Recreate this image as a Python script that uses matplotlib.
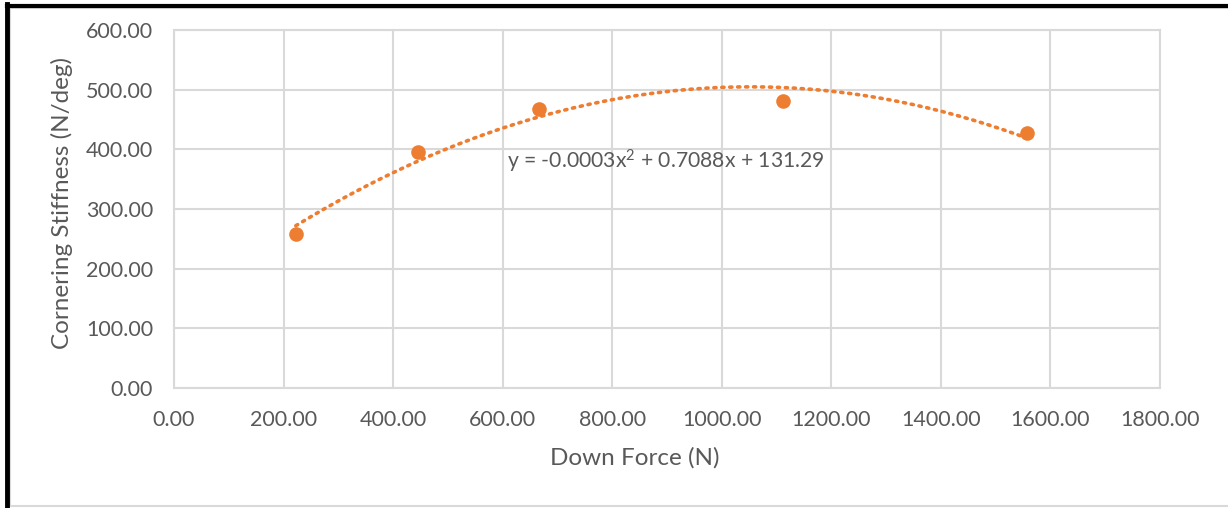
import numpy as np
import matplotlib
matplotlib.use("Agg")
import matplotlib.pyplot as plt
from matplotlib.lines import Line2D
from matplotlib.patches import Rectangle

plt.rcParams['font.family'] = ['Lato', 'DejaVu Sans']

# Measured data: vertical load vs cornering stiffness
down_force = [222.4, 444.8, 667.2, 1112.0, 1556.8]
stiffness = [258.0, 395.5, 467.5, 481.0, 427.0]
x_ticks = [0, 200, 400, 600, 800, 1000, 1200, 1400, 1600, 1800]
y_ticks = [0, 100, 200, 300, 400, 500, 600]
trend_label = "y = -0.0003x$^{2}$ + 0.7088x + 131.29"

orange = "#ED7D31"
grid_c = "#D9D9D9"
text_c = "#595959"

fig = plt.figure(figsize=(12.28, 5.08), dpi=100)
ax = fig.add_axes([174/1228, 1-388/508, (1160-174)/1228, (388-30)/508])

# second-order polynomial trendline over the data range
coef = np.polyfit(down_force, stiffness, 2)
xs = np.linspace(min(down_force), max(down_force), 200)
ax.plot(xs, np.polyval(coef, xs), linestyle=(0, (0.6, 1.6)), color=orange,
        linewidth=2.6, dash_capstyle='round', zorder=2)

ax.plot(down_force, stiffness, 'o', color=orange, markersize=10.5,
        markeredgewidth=0, zorder=3)

ax.set_xlim(0, 1800)
ax.set_ylim(0, 600)
ax.set_xticks(x_ticks)
ax.set_yticks(y_ticks)
ax.set_xticklabels([f"{v:.2f}" for v in x_ticks])
ax.set_yticklabels([f"{v:.2f}" for v in y_ticks])
ax.grid(True, color=grid_c, linewidth=1.5)
ax.set_axisbelow(True)
for s in ax.spines.values():
    s.set_color(grid_c)
    s.set_linewidth(1.5)
ax.tick_params(length=0, labelsize=15.5, colors=text_c, pad=15)
ax.tick_params(axis='x', pad=16)

ax.set_xlabel("Down Force (N)", fontsize=17.5, color=text_c)
ax.set_ylabel("Cornering Stiffness (N/deg)", fontsize=17.5, color=text_c)
ax.xaxis.set_label_coords((635-174)/986, -(458-388)/358)
ax.yaxis.set_label_coords(-(174-62)/986, (388-203)/358)
ax.xaxis.label.set_va('center')
ax.yaxis.label.set_va('center')

plt.rcParams['mathtext.fontset'] = 'custom'
plt.rcParams['mathtext.rm'] = 'Lato'
plt.rcParams['mathtext.it'] = 'Lato'
plt.rcParams['mathtext.default'] = 'regular'
ax.text(608, 379, trend_label, fontsize=15.2, color=text_c, va='center', ha='left')

# frame around the figure
fig.patches.append(Rectangle((10/1228, 2/508), 1220/1228, 498/508, transform=fig.transFigure,
                             fill=False, edgecolor=grid_c, linewidth=1.5))
fig.add_artist(Line2D([7/1228, 7/1228], [0, 1-4/508], color='black', linewidth=3.5,
                      transform=fig.transFigure, solid_capstyle='projecting'))
fig.add_artist(Line2D([7/1228, 1], [1-5.5/508, 1-5.5/508], color='black', linewidth=3,
                      transform=fig.transFigure, solid_capstyle='projecting'))

fig.savefig("out.png", dpi=100)
